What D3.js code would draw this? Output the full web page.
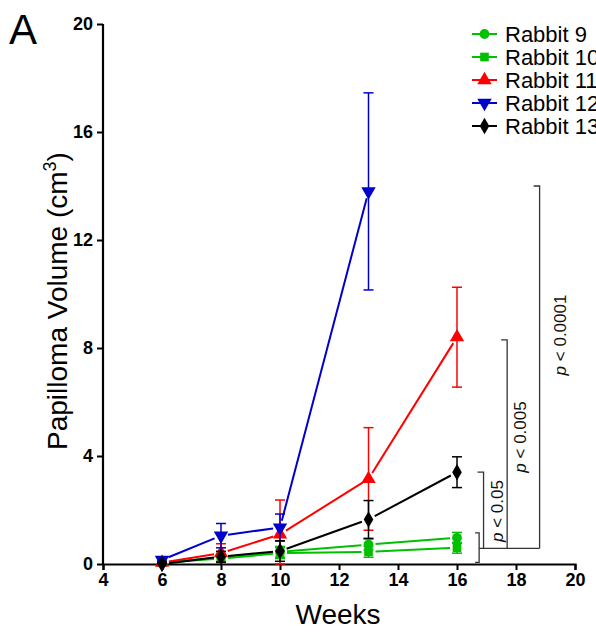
<!DOCTYPE html>
<html>
<head>
<meta charset="utf-8">
<script src="https://cdn.jsdelivr.net/npm/d3@7/dist/d3.min.js"></script>
<style>
  html, body { margin: 0; padding: 0; background: #fff; }
  svg { display: block; font-family: Arial, "Liberation Sans", sans-serif; }
</style>
</head>
<body>
<svg id="chart" width="596" height="634"></svg>
<script>
// Papilloma volume per rabbit over weeks (mean ± SEM)
const weeks = [6, 8, 10, 13, 16];
const rabbit9  = [0.05, 0.25, 0.45, 0.72, 0.97];
const rabbit9Err  = [0.05, 0.15, 0.2, 0.2, 0.2];
const rabbit10 = [0.05, 0.2, 0.4, 0.45, 0.6];
const rabbit10Err = [0.05, 0.15, 0.2, 0.2, 0.2];
const rabbit11 = [0.05, 0.4, 1.1, 3.15, 8.4];
const rabbit11Err = [0.05, 0.35, 1.27, 1.9, 1.85];
const rabbit12 = [0.15, 1.05, 1.35, 13.8];
const rabbit12Err = [0.05, 0.45, 0.5, 3.65];
const rabbit13 = [0.0, 0.27, 0.48, 1.65, 3.4];
const rabbit13Err = [0.05, 0.2, 0.38, 0.7, 0.57];

const seriesNames = ["Rabbit 9", "Rabbit 10", "Rabbit 11", "Rabbit 12", "Rabbit 13"];
const seriesColors = ["#00c000", "#00c000", "#ff0000", "#0000cc", "#000000"];
const seriesShapes = [d3.symbolCircle, d3.symbolSquare, "up", "down", d3.symbolDiamond];

const xTicks = [4, 6, 8, 10, 12, 14, 16, 18, 20];
const yTicks = [0, 4, 8, 12, 16, 20];

// Significance brackets against week-16 values
const sigLabels = ["p < 0.05", "p < 0.005", "p < 0.0001"];
const sigTops = [3.4, 8.3, 14.0];
const sigWeek = [16.9, 17.7, 18.8];
const greenGroup = [0.06, 1.15];
const sigBase = 0.58;

const series = seriesNames.map((name, i) => {
  const vals = [rabbit9, rabbit10, rabbit11, rabbit12, rabbit13][i];
  const errs = [rabbit9Err, rabbit10Err, rabbit11Err, rabbit12Err, rabbit13Err][i];
  return {
    name, color: seriesColors[i], shape: seriesShapes[i],
    points: vals.map((v, j) => ({ x: weeks[j], y: v, e: errs[j] }))
  };
});

const svg = d3.select("#chart");
const x = d3.scaleLinear().domain([4, 20]).range([103, 575]);
const y = d3.scaleLinear().domain([0, 20]).range([564, 24]);

function symbolPath(shape, size) {
  if (shape === "up" || shape === "down") {
    return d3.symbol().type(d3.symbolTriangle).size(size)();
  }
  return d3.symbol().type(shape).size(size)();
}
function symbolSize(shape) {
  if (shape === d3.symbolCircle) return 75;
  if (shape === d3.symbolSquare) return 75;
  if (shape === d3.symbolDiamond) return 80;
  return 90;
}
function rot(shape) { return shape === "down" ? 180 : 0; }

// Axes
const xAxis = d3.axisBottom(x).tickValues(xTicks).tickSize(6).tickPadding(3).tickFormat(d3.format("d"));
const yAxis = d3.axisLeft(y).tickValues(yTicks).tickSize(6).tickPadding(3).tickFormat(d3.format("d"));

const gx = svg.append("g").attr("transform", `translate(0,${y(0)})`).call(xAxis);
const gy = svg.append("g").attr("transform", `translate(${x(4)},0)`).call(yAxis);
[gx, gy].forEach(g => {
  g.select(".domain").attr("stroke", "#000").attr("stroke-width", 2.2);
  g.selectAll(".tick line").attr("stroke", "#000").attr("stroke-width", 2);
  g.selectAll(".tick text").attr("fill", "#000").attr("font-size", 18).attr("font-weight", "bold")
    .attr("font-family", "Arial, 'Liberation Sans', sans-serif");
});
gy.select(".domain").attr("d", `M0,${y(20)}V${y(0)}`);
gy.selectAll(".tick text").attr("dx", -1);

// Axis titles
svg.append("text").attr("x", 338).attr("y", 624).attr("text-anchor", "middle")
  .attr("font-size", 28).text("Weeks");
const yt = svg.append("text").attr("transform", "translate(67,301) rotate(-90)")
  .attr("text-anchor", "middle").attr("font-size", 28);
yt.append("tspan").text("Papilloma Volume (cm");
yt.append("tspan").attr("font-size", 18).attr("dy", -11).text("3");
yt.append("tspan").attr("dy", 11).text(")");

svg.append("text").attr("x", 9).attr("y", 44).attr("font-size", 42).text("A");

// Data
const gap = 7;
series.forEach(s => {
  const g = svg.append("g");
  // error bars
  s.points.forEach(p => {
    const lo = Math.max(0, p.y - p.e), hi = p.y + p.e;
    const cx = x(p.x);
    g.append("line").attr("x1", cx).attr("x2", cx).attr("y1", y(lo)).attr("y2", y(hi))
      .attr("stroke", s.color).attr("stroke-width", 1.5);
    [lo, hi].forEach(v => {
      g.append("line").attr("x1", cx - 5).attr("x2", cx + 5).attr("y1", y(v)).attr("y2", y(v))
        .attr("stroke", s.color).attr("stroke-width", 1.5);
    });
  });
  // connecting segments, stopping short of the markers
  for (let j = 0; j < s.points.length - 1; j++) {
    const a = s.points[j], b = s.points[j + 1];
    const x1 = x(a.x), y1 = y(a.y), x2 = x(b.x), y2 = y(b.y);
    const len = Math.hypot(x2 - x1, y2 - y1);
    const ux = (x2 - x1) / len, uy = (y2 - y1) / len;
    g.append("line")
      .attr("x1", x1 + ux * gap).attr("y1", y1 + uy * gap)
      .attr("x2", x2 - ux * gap).attr("y2", y2 - uy * gap)
      .attr("stroke", s.color).attr("stroke-width", 2);
  }
  // markers
  s.points.forEach(p => {
    g.append("path").attr("d", symbolPath(s.shape, symbolSize(s.shape)))
      .attr("transform", `translate(${x(p.x)},${y(p.y)}) rotate(${rot(s.shape)})`)
      .attr("fill", s.color);
  });
});

// Legend
const legend = svg.append("g");
seriesNames.forEach((name, i) => {
  const s = series[i];
  const ly = 34 + i * 23;
  legend.append("line").attr("x1", 472).attr("x2", 497).attr("y1", ly).attr("y2", ly)
    .attr("stroke", s.color).attr("stroke-width", 2);
  legend.append("path").attr("d", symbolPath(s.shape, symbolSize(s.shape)))
    .attr("transform", `translate(484.5,${ly}) rotate(${rot(s.shape)})`).attr("fill", s.color);
  legend.append("text").attr("x", 505).attr("y", ly + 8).attr("font-size", 22).attr("fill", "#000").text(name);
});

// Significance brackets
const br = svg.append("g").attr("stroke", "#333").attr("stroke-width", 1.3).attr("fill", "none");
const gx0 = x(16.75), gxTick = gx0 - 4;
br.append("path").attr("d", `M${gxTick},${y(greenGroup[1])}H${gx0}V${y(greenGroup[0])}H${gxTick}`);
br.append("path").attr("d", `M${gx0},${y(sigBase)}H${x(sigWeek[2])}`);
sigTops.forEach((t, i) => {
  const vx = x(sigWeek[i]);
  br.append("path").attr("d", `M${vx - 6},${y(t)}H${vx}V${y(sigBase)}`);
});
const centers = [[497, 511], [520, 437], [560, 335]];
sigLabels.forEach((lab, i) => {
  const t = svg.append("text")
    .attr("transform", `translate(${centers[i][0] + 6},${centers[i][1]}) rotate(-90)`)
    .attr("text-anchor", "middle").attr("font-size", 17).attr("fill", "#111");
  t.append("tspan").attr("font-style", "italic").text("p");
  t.append("tspan").text(lab.slice(1));
});
</script>
</body>
</html>
